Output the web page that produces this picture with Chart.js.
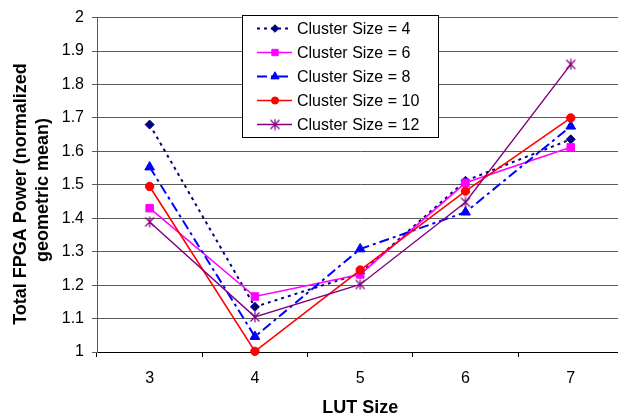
<!DOCTYPE html>
<html>
<head>
<meta charset="utf-8">
<script src="https://cdn.jsdelivr.net/npm/chart.js@4.4.1/dist/chart.umd.min.js"></script>
<style>
  html, body { margin: 0; padding: 0; background: #fff; overflow: hidden; }
  #wrap { width: 618px; height: 417px; overflow: hidden; }
</style>
</head>
<body>
<div id="wrap"><canvas id="c" width="630" height="417"></canvas></div>
<script>
// ---- data ----
const lutSizes = ['3', '4', '5', '6', '7'];
const seriesNames = ['Cluster Size = 4', 'Cluster Size = 6', 'Cluster Size = 8', 'Cluster Size = 10', 'Cluster Size = 12'];
const cluster4  = [1.680, 1.135, 1.235, 1.512, 1.636];
const cluster6  = [1.430, 1.166, 1.232, 1.506, 1.612];
const cluster8  = [1.553, 1.046, 1.308, 1.418, 1.675];
const cluster10 = [1.495, 1.002, 1.245, 1.481, 1.700];
const cluster12 = [1.389, 1.105, 1.202, 1.448, 1.860];
const yMin = 1, yMax = 2, yStep = 0.1;
const xTitle = 'LUT Size';
const yTitleLines = ['Total FPGA Power (normalized', 'geometric mean)'];

const FONT = "'Liberation Sans', Arial, sans-serif";

// Excel-like star marker (X + vertical bar)
function starMarker(color) {
  const c = document.createElement('canvas');
  c.width = 12; c.height = 12;
  const g = c.getContext('2d');
  g.strokeStyle = color; g.lineWidth = 1.2;
  g.beginPath();
  g.moveTo(1.5, 1.5); g.lineTo(10.5, 10.5);
  g.moveTo(10.5, 1.5); g.lineTo(1.5, 10.5);
  g.moveTo(6, 0.5); g.lineTo(6, 11.5);
  g.stroke();
  return c;
}

const styles = [
  { color: '#000080', dash: [3, 4],        width: 2,   point: 'rectRot',  radius: 4.5 },
  { color: '#FF00FF', dash: [],            width: 1.6, point: 'rect',     radius: 5.3 },
  { color: '#0000FF', dash: [10, 4, 3, 4], width: 2,   point: 'triangle', radius: 5.6 },
  { color: '#FF0000', dash: [],            width: 1.6, point: 'circle',   radius: 4.2 },
  { color: '#800080', dash: [],            width: 1.4, point: starMarker('#800080'), radius: 5 }
];
const allData = [cluster4, cluster6, cluster8, cluster10, cluster12];

const datasets = allData.map((d, i) => ({
  label: seriesNames[i],
  data: d,
  order: allData.length - i,
  borderColor: styles[i].color,
  backgroundColor: styles[i].color,
  pointBackgroundColor: styles[i].color,
  pointBorderColor: styles[i].color,
  borderWidth: styles[i].width,
  borderDash: styles[i].dash,
  pointStyle: styles[i].point,
  pointRadius: styles[i].radius,
  pointBorderWidth: 1,
  tension: 0,
  fill: false,
  clip: false
}));

const legendPlugin = {
  id: 'boxLegend',
  afterDraw(chart) {
    const ctx = chart.ctx;
    const x0 = 242, y0 = 15, w = 196, h = 122;
    ctx.save();
    ctx.fillStyle = '#fff';
    ctx.fillRect(x0, y0, w, h);
    ctx.strokeStyle = '#000';
    ctx.lineWidth = 1;
    ctx.setLineDash([]);
    ctx.strokeRect(x0 + 0.5, y0 + 0.5, w, h);
    datasets.forEach((ds, i) => {
      const y = 28.5 + i * 24;
      ctx.save();
      ctx.strokeStyle = ds.borderColor;
      ctx.lineWidth = ds.borderWidth;
      ctx.setLineDash(ds.borderDash);
      ctx.beginPath();
      ctx.moveTo(257, y); ctx.lineTo(292, y);
      ctx.stroke();
      ctx.restore();
      ctx.save();
      ctx.fillStyle = ds.borderColor;
      ctx.strokeStyle = ds.borderColor;
      ctx.lineWidth = 1;
      Chart.helpers.drawPoint(ctx, { pointStyle: ds.pointStyle, radius: ds.pointRadius * 0.85, borderWidth: 1 }, 275, y);
      ctx.restore();
      ctx.fillStyle = '#000';
      ctx.font = '16px ' + FONT;
      ctx.textBaseline = 'middle';
      ctx.textAlign = 'left';
      ctx.fillText(ds.label, 297, y + 1);
    });
    ctx.restore();
  }
};

const yTitlePlugin = {
  id: 'yTitle',
  afterDraw(chart) {
    const ctx = chart.ctx;
    ctx.save();
    ctx.fillStyle = '#000';
    ctx.font = 'bold 18px ' + FONT;
    ctx.textAlign = 'center';
    ctx.textBaseline = 'middle';
    const xs = [21, 43], ys = [194, 190];
    yTitleLines.forEach((t, i) => {
      ctx.save();
      ctx.translate(xs[i], ys[i]);
      ctx.rotate(-Math.PI / 2);
      ctx.fillText(t, 0, 0);
      ctx.restore();
    });
    ctx.restore();
  }
};

new Chart(document.getElementById('c'), {
  type: 'line',
  data: { labels: lutSizes, datasets },
  plugins: [yTitlePlugin, legendPlugin],
  options: {
    responsive: false,
    animation: false,
    layout: { padding: { top: 16, right: 6, left: 0, bottom: 0 } },
    plugins: { legend: { display: false }, tooltip: { enabled: false } },
    scales: {
      x: {
        type: 'category',
        offset: true,
        grid: { offset: true, drawOnChartArea: false, drawTicks: true, tickLength: 5, color: '#000' },
        border: { color: '#000', width: 1 },
        ticks: { color: '#000', font: { family: FONT, size: 16 }, padding: 12, maxRotation: 0 },
        title: { display: true, text: xTitle, color: '#000', font: { family: FONT, size: 18, weight: 'bold', lineHeight: 1 }, padding: { top: 0, bottom: 0 } },
        afterFit(s) { s.height = 65; }
      },
      y: {
        min: yMin, max: yMax,
        grid: { color: '#5a5a5a', tickLength: 5, lineWidth: 1 },
        border: { color: '#5a5a5a', width: 1 },
        ticks: {
          stepSize: yStep, color: '#000', font: { family: FONT, size: 16 }, padding: 8,
          callback: v => String(+v.toFixed(1))
        },
        afterFit(s) { s.width = 97; }
      }
    }
  }
});
</script>
</body>
</html>
